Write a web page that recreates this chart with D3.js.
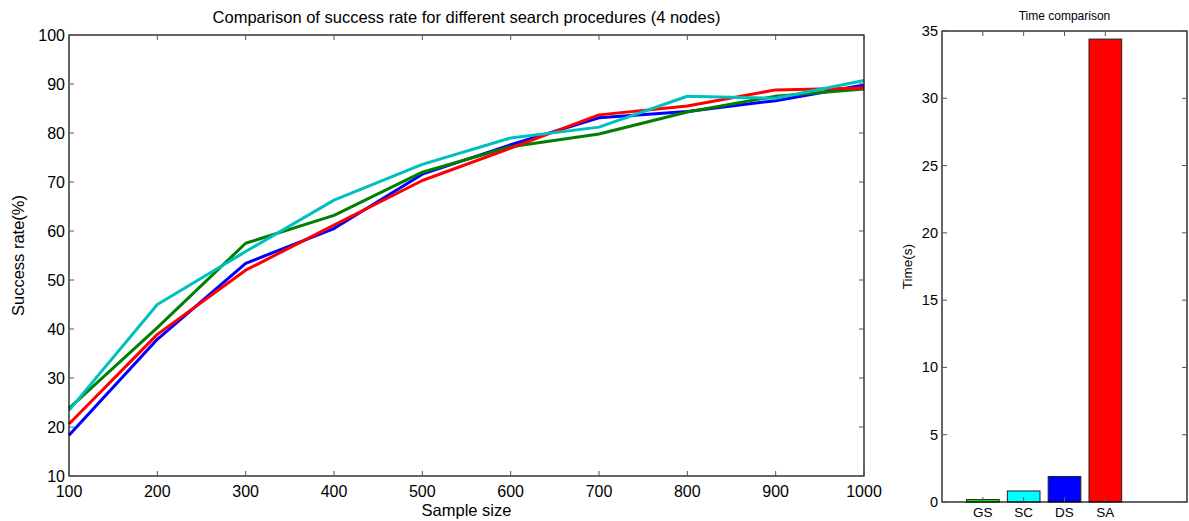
<!DOCTYPE html>
<html>
<head>
<meta charset="utf-8">
<script src="https://cdn.jsdelivr.net/npm/d3@7"></script>
<style>
  body { margin: 0; background: #fff; }
  text { font-family: "Liberation Sans", Arial, sans-serif; fill: #000; }
</style>
</head>
<body>
<div id="vis"></div>
<script>
// sample sizes on x axis
var sampleSizes = [100, 200, 300, 400, 500, 600, 700, 800, 900, 1000];
// success rate (%) per search procedure
var rateBlue  = [18.3, 37.9, 53.4, 60.5, 71.6, 77.6, 83.1, 84.4, 86.6, 89.8];
var rateRed   = [20.6, 38.9, 52.0, 61.2, 70.3, 76.9, 83.7, 85.5, 88.8, 89.2];
var rateGreen = [23.8, 40.3, 57.5, 63.2, 72.0, 77.2, 79.8, 84.3, 87.5, 89.0];
var rateCyan  = [23.4, 45.0, 55.8, 66.3, 73.6, 79.0, 81.2, 87.5, 87.1, 90.7];
var yTicksLeft = [10, 20, 30, 40, 50, 60, 70, 80, 90, 100];

// time comparison
var procNames = ['GS', 'SC', 'DS', 'SA'];
var procTimes = [0.18, 0.82, 1.9, 34.4];
var yTicksRight = [0, 5, 10, 15, 20, 25, 30, 35];

var svgW = 1189, svgH = 521;
var svg = d3.select('#vis').append('svg').attr('width', svgW).attr('height', svgH);

// ---- left plot ----
var L = {x0: 69, x1: 864, y0: 35, y1: 476};
var x = d3.scaleLinear().domain([100, 1000]).range([L.x0, L.x1]);
var y = d3.scaleLinear().domain([10, 100]).range([L.y1, L.y0]);
var gl = svg.append('g');

function boxTicks(g, xs, ys, xsc, ysc, box) {
    // matlab-style inward ticks on all four sides
    xs.forEach(function (v) {
        var px = xsc(v);
        g.append('line').attr('x1', px).attr('x2', px).attr('y1', box.y1).attr('y2', box.y1 - 5).attr('stroke', '#555');
        g.append('line').attr('x1', px).attr('x2', px).attr('y1', box.y0).attr('y2', box.y0 + 5).attr('stroke', '#555');
    });
    ys.forEach(function (v) {
        var py = ysc(v);
        g.append('line').attr('x1', box.x0).attr('x2', box.x0 + 5).attr('y1', py).attr('y2', py).attr('stroke', '#555');
        g.append('line').attr('x1', box.x1).attr('x2', box.x1 - 5).attr('y1', py).attr('y2', py).attr('stroke', '#555');
    });
}

var series = [
    {vals: rateBlue, color: '#0000ff'},
    {vals: rateGreen, color: '#008000'},
    {vals: rateRed, color: '#ff0000'},
    {vals: rateCyan, color: '#00bfbf'}
];
var line = d3.line().x(function (d, i) { return x(sampleSizes[i]); }).y(function (d) { return y(d); });
gl.selectAll('.series').data(series).enter().append('path').attr('class', 'series')
    .attr('d', function (d) { return line(d.vals); })
    .attr('fill', 'none').attr('stroke', function (d) { return d.color; })
    .attr('stroke-width', 3).attr('stroke-linejoin', 'round');

gl.append('rect').attr('x', L.x0).attr('y', L.y0).attr('width', L.x1 - L.x0).attr('height', L.y1 - L.y0)
    .attr('fill', 'none').attr('stroke', '#000').attr('stroke-width', 1.2);
boxTicks(gl, sampleSizes, yTicksLeft, x, y, L);

gl.selectAll('.xl').data(sampleSizes).enter().append('text').attr('class', 'xl')
    .attr('x', function (d) { return x(d); }).attr('y', L.y1 + 21).attr('text-anchor', 'middle')
    .style('font-size', '16px').text(String);
gl.selectAll('.yl').data(yTicksLeft).enter().append('text').attr('class', 'yl')
    .attr('x', L.x0 - 4).attr('y', function (d) { return y(d) + 6; }).attr('text-anchor', 'end')
    .style('font-size', '16px').text(String);

gl.append('text').attr('x', (L.x0 + L.x1) / 2).attr('y', 23).attr('text-anchor', 'middle')
    .style('font-size', '16.5px').text('Comparison of success rate for different search procedures (4 nodes)');
gl.append('text').attr('x', (L.x0 + L.x1) / 2).attr('y', 516).attr('text-anchor', 'middle')
    .style('font-size', '16.5px').text('Sample size');
gl.append('text').attr('transform', 'translate(24,' + ((L.y0 + L.y1) / 2) + ') rotate(-90)')
    .attr('text-anchor', 'middle').style('font-size', '16.5px').text('Success rate(%)');

// ---- right plot ----
var R = {x0: 942, x1: 1187, y0: 31, y1: 502};
var xb = d3.scaleLinear().domain([0, 6]).range([R.x0, R.x1]);
var yb = d3.scaleLinear().domain([0, 35]).range([R.y1, R.y0]);
var barColors = ['#00ff00', '#00ffff', '#0000ff', '#ff0000'];
var gr = svg.append('g');

gr.selectAll('.bar').data(procTimes).enter().append('rect').attr('class', 'bar')
    .attr('x', function (d, i) { return xb(i + 1 - 0.4); })
    .attr('width', xb(0.8) - xb(0))
    .attr('y', function (d) { return yb(d); })
    .attr('height', function (d) { return yb(0) - yb(d); })
    .attr('fill', function (d, i) { return barColors[i]; })
    .attr('stroke', '#222').attr('stroke-width', 1);

gr.append('rect').attr('x', R.x0).attr('y', R.y0).attr('width', R.x1 - R.x0).attr('height', R.y1 - R.y0)
    .attr('fill', 'none').attr('stroke', '#000').attr('stroke-width', 1.2);
boxTicks(gr, [1, 2, 3, 4], yTicksRight, xb, yb, R);

gr.selectAll('.xb').data(procNames).enter().append('text').attr('class', 'xb')
    .attr('x', function (d, i) { return xb(i + 1); }).attr('y', R.y1 + 15).attr('text-anchor', 'middle')
    .style('font-size', '13.5px').text(String);
gr.selectAll('.yb').data(yTicksRight).enter().append('text').attr('class', 'yb')
    .attr('x', R.x0 - 4).attr('y', function (d) { return yb(d) + 5; }).attr('text-anchor', 'end')
    .style('font-size', '14.5px').text(String);

gr.append('text').attr('x', (R.x0 + R.x1) / 2).attr('y', 20).attr('text-anchor', 'middle')
    .style('font-size', '12px').text('Time comparison');
gr.append('text').attr('transform', 'translate(912,' + ((R.y0 + R.y1) / 2) + ') rotate(-90)')
    .attr('text-anchor', 'middle').style('font-size', '13.5px').text('Time(s)');
</script>
</body>
</html>
